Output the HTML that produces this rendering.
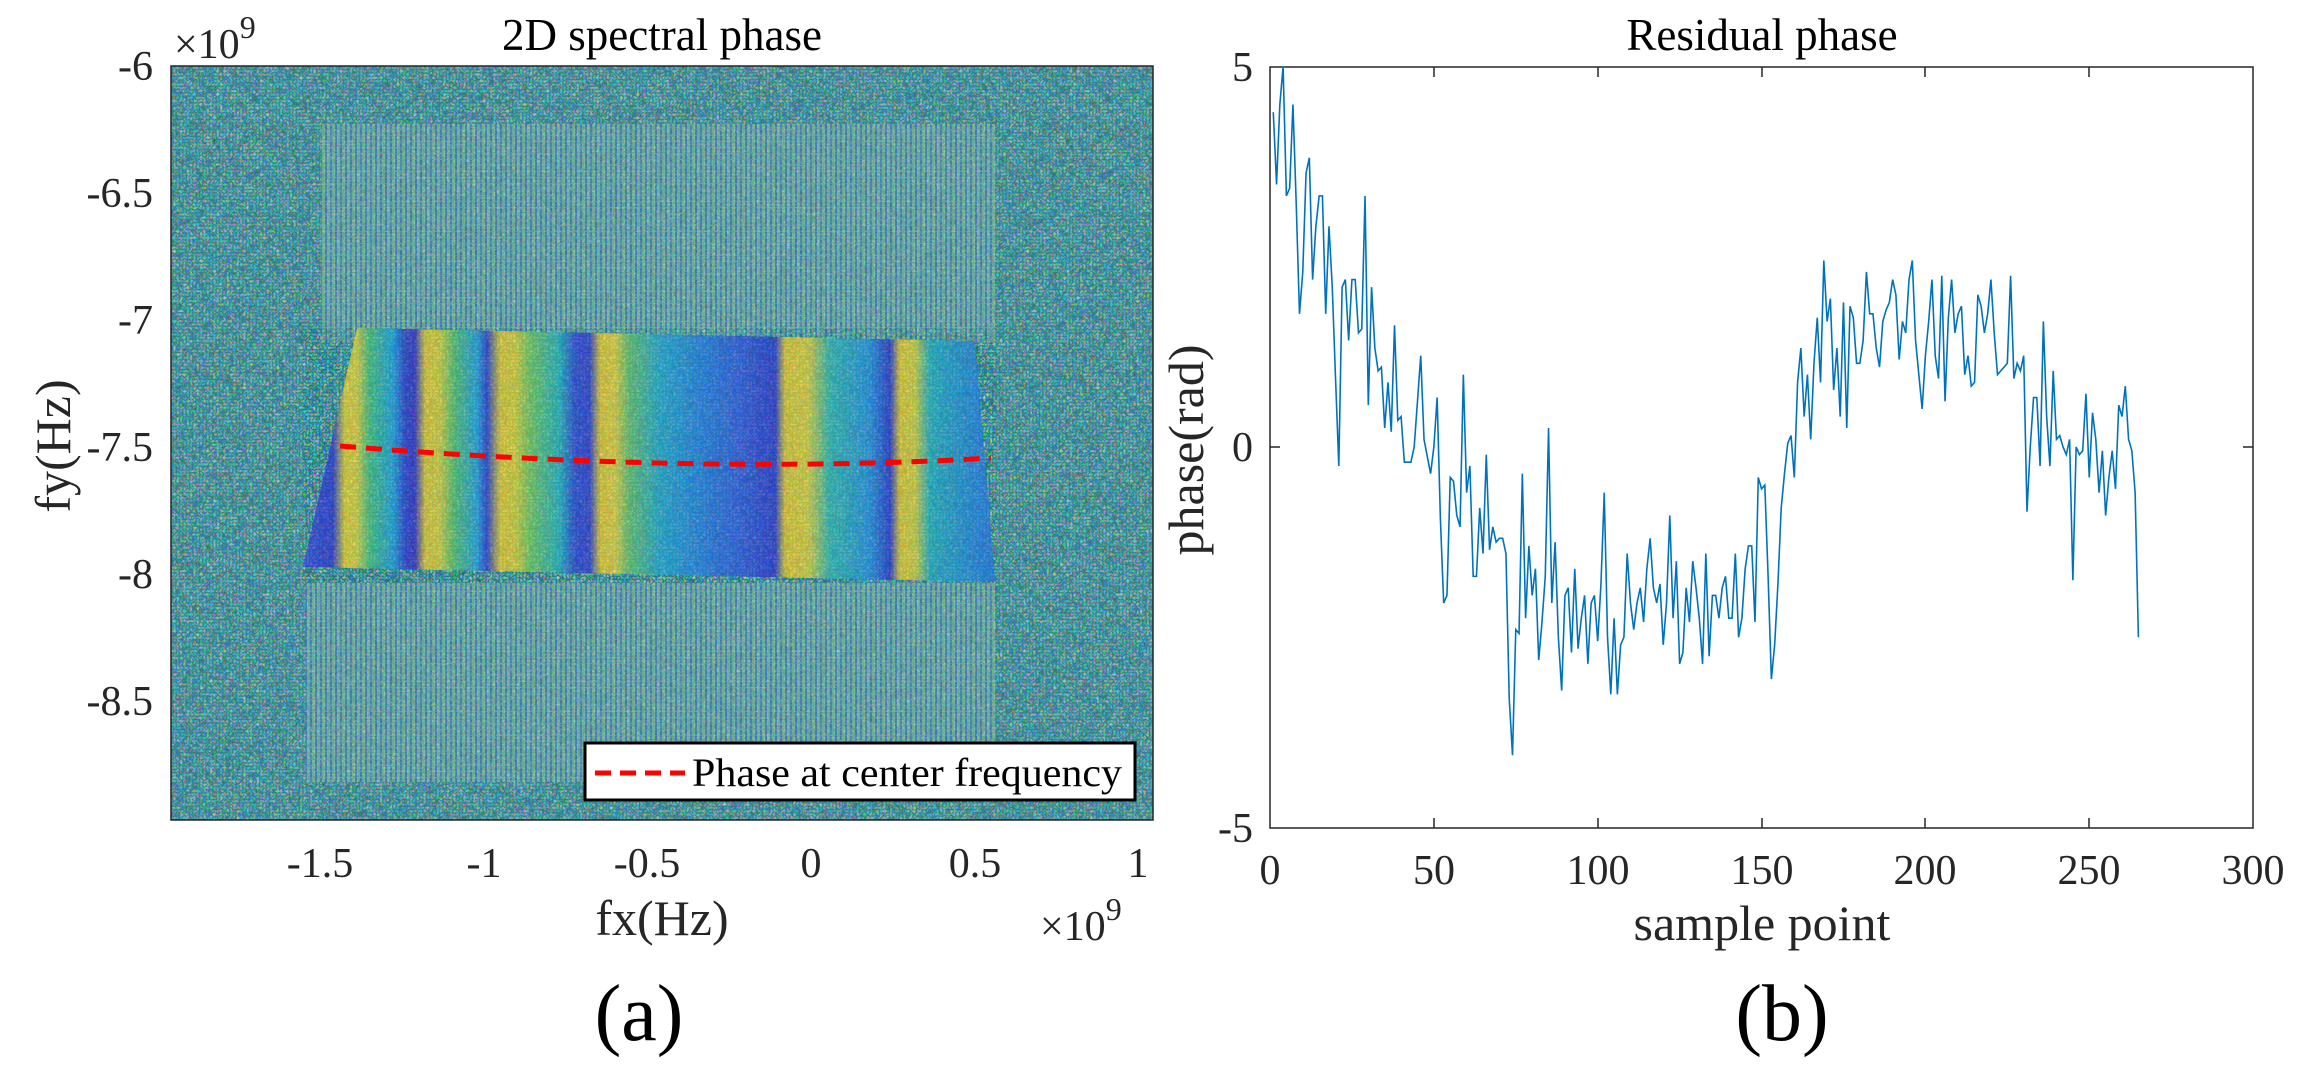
<!DOCTYPE html>
<html><head><meta charset="utf-8"><style>
html,body{margin:0;padding:0;background:#fff;}
svg{display:block;font-family:"Liberation Serif",serif;}
</style></head><body>
<svg width="2306" height="1077" viewBox="0 0 2306 1077" xmlns="http://www.w3.org/2000/svg">
<defs>
<filter id="nz" x="0" y="0" width="100%" height="100%" filterUnits="objectBoundingBox">
<feTurbulence type="turbulence" baseFrequency="0.3" numOctaves="1" seed="7"/>
<feColorMatrix type="matrix" values="2.0 0 0 0 -0.35  0 1.5 0 0 0.05  0 0 2.0 0 0.0  0 0 0 0 0.5"/>
</filter>
<pattern id="vs" width="5" height="6" patternUnits="userSpaceOnUse">
<rect x="0" y="0" width="2" height="6" fill="#4a70d0"/>
<rect x="2" y="0" width="3" height="6" fill="#92c890"/>
<rect x="0" y="3" width="5" height="1" fill="#a0b8b0" opacity="0.5"/>
</pattern>
<linearGradient id="bands" gradientUnits="userSpaceOnUse" x1="300" y1="0" x2="1000" y2="0">
<stop offset="0" stop-color="#4050e0"/>
<stop offset=".047" stop-color="#3a3ad0"/>
<stop offset=".064" stop-color="#f0d030"/>
<stop offset=".081" stop-color="#e8d040"/>
<stop offset=".1" stop-color="#50c080"/>
<stop offset=".133" stop-color="#2aa0e0"/>
<stop offset=".15" stop-color="#3a40d0"/>
<stop offset=".164" stop-color="#4030c8"/>
<stop offset=".179" stop-color="#f0c830"/>
<stop offset=".2" stop-color="#e0d040"/>
<stop offset=".221" stop-color="#60c070"/>
<stop offset=".253" stop-color="#30a0e0"/>
<stop offset=".267" stop-color="#3a40d0"/>
<stop offset=".286" stop-color="#f0c830"/>
<stop offset=".307" stop-color="#e8d038"/>
<stop offset=".329" stop-color="#80c860"/>
<stop offset=".371" stop-color="#30b0c0"/>
<stop offset=".393" stop-color="#3848d8"/>
<stop offset=".414" stop-color="#4040d0"/>
<stop offset=".429" stop-color="#f0c830"/>
<stop offset=".45" stop-color="#f0d040"/>
<stop offset=".471" stop-color="#70c070"/>
<stop offset=".514" stop-color="#30a8d0"/>
<stop offset=".571" stop-color="#3080e0"/>
<stop offset=".629" stop-color="#3d5ae0"/>
<stop offset=".679" stop-color="#3a3ad0"/>
<stop offset=".693" stop-color="#f0c830"/>
<stop offset=".726" stop-color="#e8d040"/>
<stop offset=".757" stop-color="#40b8b0"/>
<stop offset=".814" stop-color="#3090e0"/>
<stop offset=".843" stop-color="#3838d0"/>
<stop offset=".857" stop-color="#f0c830"/>
<stop offset=".879" stop-color="#e0d040"/>
<stop offset=".9" stop-color="#30b0c0"/>
<stop offset=".971" stop-color="#3080e0"/>
<stop offset="1" stop-color="#3070e0"/>
</linearGradient>
<clipPath id="ax1"><rect x="171" y="66" width="982" height="754"/></clipPath>
</defs>

<!-- Left plot -->
<g clip-path="url(#ax1)">
<rect x="171" y="66" width="982" height="754" fill="#6c9cae"/>
<rect x="171" y="66" width="982" height="754" filter="url(#nz)"/>
<rect x="321" y="124" width="674" height="219" fill="url(#vs)" opacity="0.5"/>
<rect x="306" y="583" width="689" height="199" fill="url(#vs)" opacity="0.5"/>
<polygon points="357,328 975,341 995,582 303,567" fill="url(#bands)"/>
<polygon points="357,328 975,341 995,582 303,567" filter="url(#nz)" opacity="0.45"/>
<path d="M340,446 Q700,475 991,458" fill="none" stroke="#ff0000" stroke-width="5" stroke-dasharray="16,10"/>
</g>
<rect x="171" y="66" width="982" height="754" fill="none" stroke="#262626" stroke-width="1.5"/>
<!-- legend -->
<rect x="585" y="743" width="550" height="57" fill="#fff" stroke="#000" stroke-width="3"/>
<line x1="595" y1="773" x2="685" y2="773" stroke="#ff0000" stroke-width="5" stroke-dasharray="16,9"/>
<text x="692" y="786" font-size="40" textLength="430" lengthAdjust="spacingAndGlyphs">Phase at center frequency</text>

<g font-size="42" fill="#262626">
<text x="153" y="80" text-anchor="end">-6</text>
<text x="153" y="207" text-anchor="end">-6.5</text>
<text x="153" y="334" text-anchor="end">-7</text>
<text x="153" y="461" text-anchor="end">-7.5</text>
<text x="153" y="588" text-anchor="end">-8</text>
<text x="153" y="715" text-anchor="end">-8.5</text>
<text x="320" y="877" text-anchor="middle">-1.5</text>
<text x="484" y="877" text-anchor="middle">-1</text>
<text x="647" y="877" text-anchor="middle">-0.5</text>
<text x="811" y="877" text-anchor="middle">0</text>
<text x="975" y="877" text-anchor="middle">0.5</text>
<text x="1138" y="877" text-anchor="middle">1</text>
<text x="174" y="58">×10<tspan font-size="32" dy="-20">9</tspan></text>
<text x="1040" y="940">×10<tspan font-size="32" dy="-20">9</tspan></text>
</g>
<text x="662" y="50" font-size="45" text-anchor="middle">2D spectral phase</text>
<text x="662" y="935" font-size="50" text-anchor="middle" fill="#262626">fx(Hz)</text>
<text transform="translate(70,446) rotate(-90)" font-size="50" text-anchor="middle" fill="#262626">fy(Hz)</text>
<text x="639" y="1040" font-size="80" text-anchor="middle">(a)</text>

<!-- Right plot -->
<rect x="1270" y="67" width="983" height="761" fill="#fff" stroke="#262626" stroke-width="1.5"/>
<g stroke="#262626" stroke-width="1.5">
<line x1="1434" y1="828" x2="1434" y2="818"/><line x1="1598" y1="828" x2="1598" y2="818"/>
<line x1="1762" y1="828" x2="1762" y2="818"/><line x1="1925" y1="828" x2="1925" y2="818"/>
<line x1="2089" y1="828" x2="2089" y2="818"/>
<line x1="1434" y1="67" x2="1434" y2="77"/><line x1="1598" y1="67" x2="1598" y2="77"/>
<line x1="1762" y1="67" x2="1762" y2="77"/><line x1="1925" y1="67" x2="1925" y2="77"/>
<line x1="2089" y1="67" x2="2089" y2="77"/>
<line x1="1270" y1="447" x2="1280" y2="447"/><line x1="2253" y1="447" x2="2243" y2="447"/>
</g>
<g transform="translate(1270,447) scale(3.277,-76.1)">
<polyline fill="none" stroke="#0072bd" stroke-width="1.6" vector-effect="non-scaling-stroke" points="1,4.4 2,3.45 3,4.5 4,5.0 5,3.3 6,3.4 7,4.5 8,3.2 9,1.75 10,2.3 11,3.6 12,3.8 13,2.2 14,2.9 15,3.3 16,3.3 17,1.75 18,2.9 19,2.1 20,0.9 21,-0.25 22,2.1 23,2.2 24,1.4 25,2.2 26,2.2 27,1.5 28,1.55 29,3.3 30,0.55 31,2.1 32,1.3 33,1.0 34,1.05 35,0.25 36,0.85 37,0.2 38,1.6 39,0.35 40,0.4 41,-0.2 43,-0.2 44,0 46,1.2 47,0.1 49,-0.35 50,0 51,0.65 52,-0.95 53,-2.05 54,-1.95 55,-0.4 56,-0.45 57,-0.9 58,-1.05 59,0.95 60,-0.6 61,-0.25 62,-1.7 63,-1.7 64,-0.8 65,-1.4 66,-0.1 67,-1.35 68,-1.05 69,-1.25 70,-1.2 71,-1.2 72,-1.4 73,-3.3 74,-4.05 75,-2.4 76,-2.45 77,-0.35 78,-2.25 79,-1.3 80,-1.95 81,-1.6 82,-2.8 83,-2.3 84,-1.7 85,0.25 86,-2.05 87,-1.25 88,-2.5 89,-3.2 90,-1.95 91,-1.85 92,-2.7 93,-1.6 94,-2.65 95,-2.25 96,-1.95 97,-2.85 98,-2.05 99,-1.95 100,-2.55 101,-1.8 102,-0.6 103,-2.5 104,-3.25 105,-2.25 106,-3.25 107,-2.6 108,-2.5 109,-1.4 110,-2.05 111,-2.4 112,-2.05 113,-1.85 114,-2.3 115,-1.6 116,-1.2 117,-1.85 118,-2.05 119,-1.8 120,-2.6 121,-2.05 122,-0.9 123,-2.25 124,-1.5 125,-2.85 126,-2.7 127,-1.85 128,-2.3 129,-1.5 130,-1.85 131,-2.25 132,-2.85 133,-1.4 134,-2.75 135,-1.95 136,-1.95 137,-2.25 138,-1.85 139,-1.7 140,-2.25 141,-2.25 142,-1.4 143,-2.5 144,-2.25 145,-1.6 146,-1.3 147,-1.3 148,-2.3 149,-0.4 150,-0.55 151,-0.5 152,-1.7 153,-3.05 154,-2.6 155,-1.8 156,-0.8 157,-0.35 158,0.05 159,0.15 160,-0.4 161,0.85 162,1.3 163,0.4 164,0.95 165,0.1 166,1.1 167,1.7 168,0.85 169,2.45 170,1.65 171,1.95 172,0.75 173,1.3 174,0.4 175,1.9 176,0.25 177,1.85 178,1.7 179,1.1 180,1.1 181,1.4 182,2.3 183,1.75 184,1.75 185,1.3 186,1.05 187,1.65 188,1.8 189,1.9 190,2.2 191,2.0 192,1.15 193,1.65 194,1.5 195,2.2 196,2.45 197,1.4 198,0.95 199,0.5 200,1.2 201,1.65 202,2.2 203,1.2 204,0.9 205,2.25 206,0.6 207,1.7 208,2.2 209,1.5 210,1.75 211,1.85 212,0.95 213,1.2 214,0.8 215,0.85 216,2.0 217,1.85 218,1.5 219,1.75 220,2.2 221,1.5 222,0.95 223,1.0 224,1.05 225,1.1 226,2.25 227,0.9 228,1.1 229,1.0 230,1.2 231,-0.85 232,0 233,0.65 234,0.65 235,-0.25 236,1.65 237,0.4 238,-0.25 239,1.0 240,0.1 241,0.15 242,0 243,-0.1 244,0.1 245,-1.75 246,0 247,-0.1 248,-0.05 249,0.7 250,-0.4 251,0.45 252,0.1 253,-0.6 254,-0.05 255,-0.9 256,-0.4 257,-0.05 258,-0.55 259,0.55 260,0.4 261,0.8 262,0.1 263,-0.05 264,-0.6 265,-2.5"/>
</g>
<g font-size="42" fill="#262626">
<text x="1253" y="81" text-anchor="end">5</text>
<text x="1253" y="461" text-anchor="end">0</text>
<text x="1253" y="842" text-anchor="end">-5</text>
<text x="1270" y="884" text-anchor="middle">0</text>
<text x="1434" y="884" text-anchor="middle">50</text>
<text x="1598" y="884" text-anchor="middle">100</text>
<text x="1762" y="884" text-anchor="middle">150</text>
<text x="1925" y="884" text-anchor="middle">200</text>
<text x="2089" y="884" text-anchor="middle">250</text>
<text x="2253" y="884" text-anchor="middle">300</text>
</g>
<text x="1762" y="50" font-size="45" text-anchor="middle">Residual phase</text>
<text x="1762" y="940" font-size="50" text-anchor="middle" fill="#262626">sample point</text>
<text transform="translate(1203,450) rotate(-90)" font-size="50" text-anchor="middle" fill="#262626">phase(rad)</text>
<text x="1782" y="1040" font-size="80" text-anchor="middle">(b)</text>
</svg>
</body></html>
